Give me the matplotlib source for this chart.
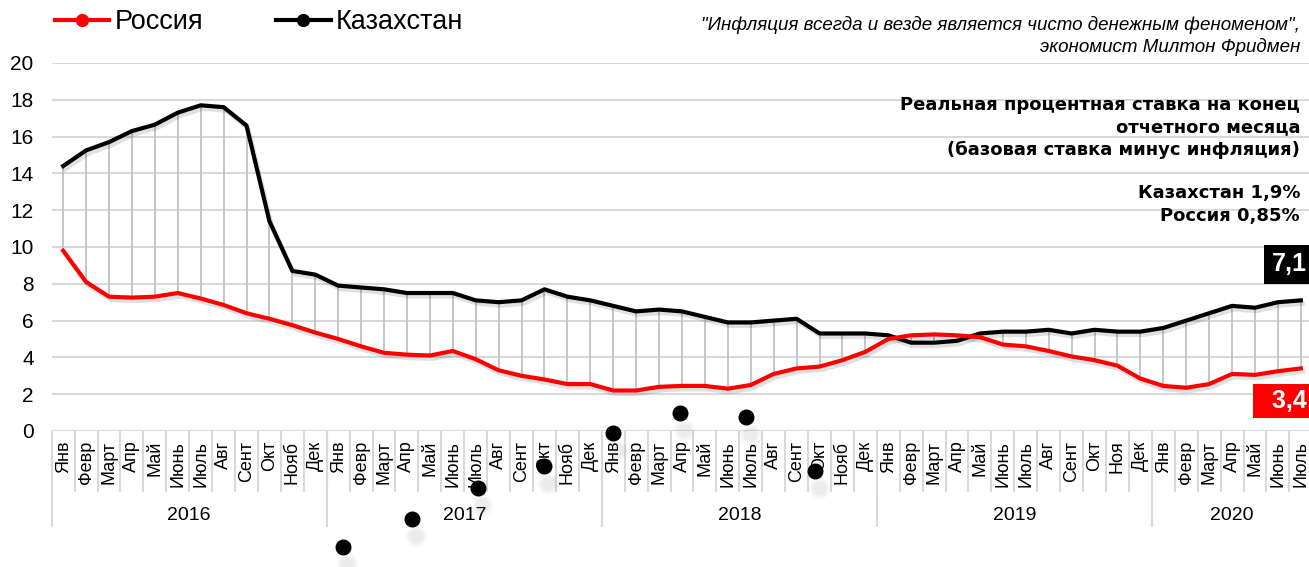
import numpy as np
import matplotlib
matplotlib.use("Agg")
import matplotlib.pyplot as plt
import matplotlib.patheffects as pe
import matplotlib.transforms as mtransforms
from matplotlib.lines import Line2D

plt.rcParams['font.family'] = ['Liberation Sans', 'DejaVu Sans']

# ---------------------------- data ----------------------------
months_2016 = ['Янв', 'Февр', 'Март', 'Апр', 'Май', 'Июнь', 'Июль', 'Авг', 'Сент', 'Окт', 'Нояб', 'Дек']
months_2019 = ['Янв', 'Февр', 'Март', 'Апр', 'Май', 'Июнь', 'Июль', 'Авг', 'Сент', 'Окт', 'Ноя', 'Дек']
months_2020 = ['Янв', 'Февр', 'Март', 'Апр', 'Май', 'Июнь', 'Июль']
month_labels = months_2016 * 3 + months_2019 + months_2020
years = ['2016', '2017', '2018', '2019', '2020']
year_months = [12, 12, 12, 12, 7]

russia = [9.8, 8.1, 7.3, 7.25, 7.3, 7.5, 7.2, 6.85, 6.4, 6.1, 5.75, 5.35,
          5.0, 4.6, 4.25, 4.15, 4.1, 4.35, 3.9, 3.3, 3.0, 2.8, 2.55, 2.55,
          2.2, 2.2, 2.4, 2.45, 2.45, 2.3, 2.5, 3.1, 3.4, 3.5, 3.85, 4.3,
          5.0, 5.2, 5.25, 5.2, 5.1, 4.7, 4.6, 4.35, 4.05, 3.85, 3.55, 2.85,
          2.45, 2.35, 2.55, 3.1, 3.05, 3.25, 3.4]
kazakhstan = [14.4, 15.25, 15.7, 16.3, 16.65, 17.3, 17.7, 17.6, 16.6, 11.4, 8.7, 8.5,
              7.9, 7.8, 7.7, 7.5, 7.5, 7.5, 7.1, 7.0, 7.1, 7.7, 7.3, 7.1,
              6.8, 6.5, 6.6, 6.5, 6.2, 5.9, 5.9, 6.0, 6.1, 5.3, 5.3, 5.3,
              5.2, 4.8, 4.8, 4.9, 5.3, 5.4, 5.4, 5.5, 5.3, 5.5, 5.4, 5.4,
              5.6, 6.0, 6.4, 6.8, 6.7, 7.0, 7.1]

# stray markers visible in the picture (month position, value)
dot_months = [12.2, 15.2, 18.1, 21.0, 24.0, 26.9, 29.8, 32.8]
dot_values = [-6.3, -4.8, -3.1, -1.9, -0.1, 1.0, 0.75, -2.2]

x = np.arange(len(month_labels))
RED = '#ff0000'
GRID = '#d9d9d9'

# ---------------------------- figure ----------------------------
W, H = 1309, 567
fig = plt.figure(figsize=(W / 100, H / 100), dpi=100)
ax = fig.add_axes([51.7 / W, 1 - 431 / H, (W - 51.7) / W, 368 / H])

ax.set_ylim(0, 20)
ax.set_xlim(-0.5, -0.5 + (W - 51.7) / 22.92)
ax.set_yticks(range(0, 21, 2))
ax.yaxis.grid(True, color=GRID, linewidth=1.5)
ax.set_axisbelow(True)
for s in ax.spines.values():
    s.set_visible(False)
ax.tick_params(axis='y', length=0, pad=13, labelsize=15)
ax.set_xticks(x)
ax.set_xticklabels(month_labels, rotation=90, fontsize=13)
ax.tick_params(axis='x', length=0, pad=7)

# gray hi-lo lines
ax.vlines(x, russia, kazakhstan, color='#c0c0c0', linewidth=1.3, zorder=2)

shadow = [pe.SimpleLineShadow(offset=(1.5, -2.5), shadow_color='black', alpha=0.12), pe.Normal()]
ax.plot(x, kazakhstan, color='black', linewidth=3, zorder=3, path_effects=shadow)
ax.plot(x, russia, color=RED, linewidth=3, zorder=3, path_effects=shadow)

# stray dots with soft shadow
sh = mtransforms.offset_copy(ax.transData, fig=fig, x=4, y=-17, units='dots')
for ms, a in [(16, 0.04), (13, 0.05), (10, 0.06)]:
    ax.plot(dot_months, dot_values, 'o', color='gray', alpha=a, markersize=ms,
            markeredgewidth=0, transform=sh, clip_on=False, zorder=4)
ax.plot(dot_months, dot_values, 'o', color='black', markersize=10.5,
        clip_on=False, zorder=5)

# category table separators
xt = ax.get_xaxis_transform()
bounds = np.arange(len(month_labels)) - 0.5
ax.vlines(bounds, -61 / 368, 0, color=GRID, linewidth=1.5, transform=xt, clip_on=False)
start = 0
for yr, n in zip(years, year_months):
    ax.vlines(start - 0.5, -96 / 368, 0, color=GRID, linewidth=1.5, transform=xt, clip_on=False)
    ax.text(start + (n - 1) / 2, -85 / 368, yr, transform=xt, ha='center', va='center', fontsize=14)
    start += n

# end value labels
ax.annotate('7,1', (x[-1], kazakhstan[-1]), xytext=(6, 36), textcoords='offset pixels',
            ha='right', va='center', color='white', fontsize=18, fontweight='bold',
            bbox=dict(boxstyle='square,pad=0.3', facecolor='black', edgecolor='none'),
            annotation_clip=False)
ax.annotate('  3,4', (x[-1], russia[-1]), xytext=(6, -33), textcoords='offset pixels',
            ha='right', va='center', color='white', fontsize=18, fontweight='bold',
            bbox=dict(boxstyle='square,pad=0.2', facecolor=RED, edgecolor='none'),
            annotation_clip=False)

# legend
handles = [Line2D([], [], color=RED, linewidth=3, marker='o', markersize=8.5),
           Line2D([], [], color='black', linewidth=3, marker='o', markersize=8.5)]
fig.legend(handles, ['Россия', 'Казахстан'], loc='center left', ncol=2,
           bbox_to_anchor=(55 / W, 1 - 22 / H), frameon=False, fontsize=19.5,
           handlelength=2.0, handletextpad=0.2, columnspacing=2.7,
           borderpad=0, borderaxespad=0)

# texts
fig.text(1300 / W, 1 - 25 / H, '"Инфляция всегда и везде является чисто денежным феноменом",',
         ha='right', va='center', fontsize=13.5, style='italic')
fig.text(1300 / W, 1 - 47 / H, 'экономист Милтон Фридмен',
         ha='right', va='center', fontsize=13.5, style='italic')
bold = dict(ha='right', va='center', fontsize=13, fontweight='bold',
            family=['DejaVu Sans'])
for i, line in enumerate(['Реальная процентная ставка на конец', 'отчетного месяца',
                          '(базовая ставка минус инфляция)']):
    fig.text(1300 / W, 1 - (105 + 22.5 * i) / H, line, **bold)
fig.text(1300 / W, 1 - 193 / H, 'Казахстан 1,9%', **bold)
fig.text(1300 / W, 1 - 216 / H, 'Россия 0,85%', **bold)

fig.savefig('out.png', dpi=100)
